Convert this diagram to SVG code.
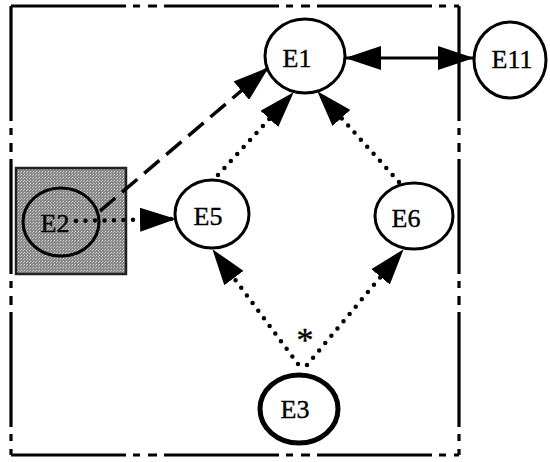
<svg xmlns="http://www.w3.org/2000/svg" width="550" height="462" viewBox="0 0 550 462">
<style>
.node{fill:#fff;stroke:#000;stroke-width:3}
.thick{stroke-width:5}
.lbl{font-family:"Liberation Serif","Times New Roman",serif;font-size:26px;fill:#000;stroke:#000;stroke-width:0.4;text-anchor:middle}
.frame{fill:none;stroke:#000;stroke-width:3.2;stroke-dasharray:115 7 7 8 9 7}
.dot{fill:none;stroke:#000;stroke-width:4.5;stroke-linecap:round;stroke-dasharray:0 9.5}
.dash{fill:none;stroke:#000;stroke-width:3.5;stroke-dasharray:20 9}
.solid{fill:none;stroke:#000;stroke-width:3}
</style>
<defs>
<marker id="ah" markerUnits="userSpaceOnUse" markerWidth="36" markerHeight="24" refX="35" refY="12" orient="auto-start-reverse" viewBox="0 0 36 24">
<path d="M0,0 L36,12 L0,24 Z" fill="#000"/>
</marker>
<pattern id="stip" width="3" height="3" patternUnits="userSpaceOnUse">
<rect width="3" height="3" fill="#8a8a8a"/>
<rect x="0" y="0" width="1" height="1" fill="#cfcfcf"/>
<rect x="2" y="1" width="1" height="1" fill="#b8b8b8"/>
</pattern>
</defs>
<rect width="550" height="462" fill="#fff"/>
<g id="frame">
<line class="frame" x1="11" y1="6" x2="11" y2="455"/>
<line class="frame" x1="11" y1="455" x2="459" y2="455"/>
<line class="frame" x1="11" y1="6" x2="459" y2="6"/>
<line class="frame" x1="459" y1="6" x2="459" y2="455"/>
</g>
<g id="E2">
<rect x="16" y="168" width="110" height="106" fill="url(#stip)" stroke="#222" stroke-width="2.5"/>
<ellipse cx="61" cy="222" rx="38" ry="34" fill="none" stroke="#000" stroke-width="3"/>
<text class="lbl" x="55" y="232">E2</text>
</g>
<g id="connectors">
<path class="dash" d="M100,211 L268,68" marker-end="url(#ah)"/>
<path class="dot" d="M76,221 L175,219" marker-end="url(#ah)"/>
<path class="dot" d="M218,175 L293,93" marker-end="url(#ah)"/>
<path class="dot" d="M399,182 L318,92" marker-end="url(#ah)"/>
<path class="dot" d="M298,364 L213,250" marker-end="url(#ah)"/>
<path class="dot" d="M307,365 L403,250" marker-end="url(#ah)"/>
<path class="solid" d="M346,58 L473,58" marker-start="url(#ah)" marker-end="url(#ah)"/>
</g>
<g id="E1">
<ellipse class="node" cx="305" cy="56" rx="40" ry="37"/>
<text class="lbl" x="297" y="67">E1</text>
</g>
<g id="E11">
<ellipse class="node" cx="510" cy="60" rx="36" ry="38"/>
<text class="lbl" x="512" y="68">E11</text>
</g>
<g id="E5">
<ellipse class="node" cx="212" cy="214" rx="37" ry="34"/>
<text class="lbl" x="208" y="225">E5</text>
</g>
<g id="E6">
<ellipse class="node" cx="414" cy="216" rx="39" ry="33"/>
<text class="lbl" x="406" y="227">E6</text>
</g>
<g id="E3">
<ellipse class="node thick" cx="299" cy="409" rx="39" ry="34"/>
<text class="lbl" x="295" y="418">E3</text>
</g>
<text class="lbl" x="305" y="351" style="font-size:34px">*</text>
</svg>
